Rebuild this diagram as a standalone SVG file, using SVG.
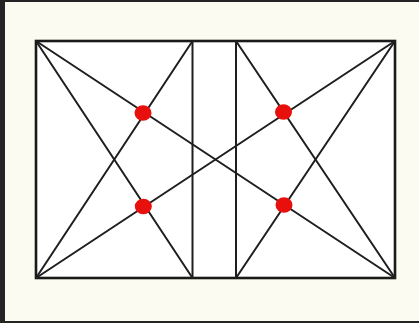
<svg xmlns="http://www.w3.org/2000/svg" width="419" height="323" viewBox="0 0 419 323">
  <style>
    .ln { stroke: #1e1e1e; stroke-width: 2; fill: none; stroke-linecap: round; }
    .frame { stroke: #1a1a1a; stroke-width: 2.6; fill: #ffffff; }
    .dot { fill: #e8100c; }
  </style>
  <rect x="0" y="0" width="419" height="323" fill="#242424"/>
  <rect x="5" y="2" width="414" height="319" fill="#fbfbf1"/>
  <g id="frame">
    <rect class="frame" x="36" y="41" width="359" height="237"/>
  </g>
  <g id="connectors">
    <line class="ln" x1="192.5" y1="41" x2="192.5" y2="278"/>
    <line class="ln" x1="236" y1="41" x2="236" y2="278"/>
    <line class="ln" x1="36" y1="41" x2="395" y2="278"/>
    <line class="ln" x1="36" y1="278" x2="395" y2="41"/>
    <line class="ln" x1="36" y1="41" x2="192.5" y2="278"/>
    <line class="ln" x1="36" y1="278" x2="192.5" y2="41"/>
    <line class="ln" x1="395" y1="41" x2="236" y2="278"/>
    <line class="ln" x1="395" y1="278" x2="236" y2="41"/>
  </g>
  <g id="dot-tl"><ellipse class="dot" cx="143" cy="113" rx="8.5" ry="7.8"/></g>
  <g id="dot-tr"><ellipse class="dot" cx="283.5" cy="112" rx="8.5" ry="7.8"/></g>
  <g id="dot-bl"><ellipse class="dot" cx="143.3" cy="206.5" rx="8.5" ry="7.8"/></g>
  <g id="dot-br"><ellipse class="dot" cx="284" cy="205" rx="8.5" ry="7.8"/></g>
</svg>
